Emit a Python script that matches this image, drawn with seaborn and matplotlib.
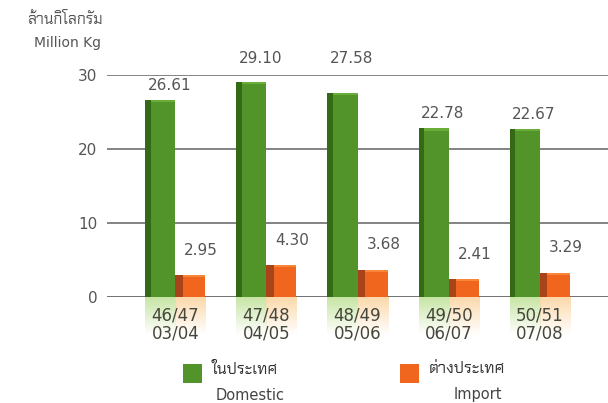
import matplotlib
matplotlib.use("Agg")
import matplotlib.pyplot as plt
import matplotlib.colors as mcolors
from matplotlib.patches import Rectangle
import numpy as np
import pandas as pd
import seaborn as sns

# ---- data ----
seasons = ["46/47\n03/04", "47/48\n04/05", "48/49\n05/06", "49/50\n06/07", "50/51\n07/08"]
domestic = [26.61, 29.10, 27.58, 22.78, 22.67]
imports = [2.95, 4.30, 3.68, 2.41, 3.29]
series_names = ["Domestic", "Import"]
legend_thai = ["ในประเทศ", "ต่างประเทศ"]
yticks = [0, 10, 20, 30]
unit_thai = "ล้านกิโลกรัม"
unit_en = "Million Kg"

GREEN = "#52942a"
GREEN_DARK = "#346a16"
GREEN_TOP = "#6aad38"
GREEN_LIGHT = "#c2e39c"
ORANGE = "#f0661f"
ORANGE_DARK = "#a9441a"
ORANGE_TOP = "#f7853a"
ORANGE_LIGHT = "#fcd6a4"
TEXT = "#555555"
LABEL = "#46463a"

sns.set_theme(style="white")
THAI = ["Chakra Petch", "DejaVu Sans"]
LAT = ["DejaVu Sans"]
plt.rcParams["font.family"] = THAI

df = pd.DataFrame({
    "season": seasons * 2,
    "type": [series_names[0]] * len(seasons) + [series_names[1]] * len(seasons),
    "value": domestic + imports,
})

fig = plt.figure(figsize=(6.08, 4.03), dpi=100)
ax = fig.add_axes([107 / 608, 1 - 297 / 403, 1 - 107 / 608, (297 - 75) / 403])

sns.barplot(data=df, x="season", y="value", hue="type", order=seasons,
            hue_order=series_names, palette=[GREEN, ORANGE], width=0.66,
            dodge=True, gap=0, saturation=1, legend=False, ax=ax, zorder=3,
            err_kws={"linewidth": 0})

# 3D-ish shading + reflections derived from the drawn bars
patches = [p for p in ax.patches if p.get_height() > 0]
for p in patches:
    p.set_edgecolor("none")
    x0, w, h = p.get_x(), p.get_width(), p.get_height()
    is_green = mcolors.to_hex(p.get_facecolor()) == mcolors.to_hex(GREEN)
    dark = GREEN_DARK if is_green else ORANGE_DARK
    top = GREEN_TOP if is_green else ORANGE_TOP
    light = GREEN_LIGHT if is_green else ORANGE_LIGHT
    side = 0.18 if is_green else 0.24
    ax.add_patch(Rectangle((x0 + w * side, h - 0.3), w * (1 - side), 0.3,
                           facecolor=top, edgecolor="none", zorder=4))
    ax.add_patch(Rectangle((x0, 0), w * side, h, facecolor=dark,
                           edgecolor="none", zorder=4))
    rgb = mcolors.to_rgb(light)
    grad = np.zeros((50, 2, 4))
    grad[..., :3] = rgb
    grad[..., 3] = np.linspace(0.95, 0.0, 50)[:, None]
    ax.imshow(grad, extent=[x0, x0 + w, -5.2, 0], aspect="auto",
              clip_on=False, zorder=1, interpolation="bilinear")

ax.set_xlim(-0.75, 4.75)
ax.set_ylim(0, 30)

# value labels
def label_y(v, off):
    y = v + off
    g = round(y / 10) * 10
    if abs(y - g) < 1.3 and g > 0:
        y = g + 2.2
    return y

for i, v in enumerate(domestic):
    ax.text(i - 0.165 + 0.1, label_y(v, 2.0), f"{v:.2f}", ha="center",
            va="center", fontsize=11, color=TEXT, zorder=5, family=LAT)
for i, v in enumerate(imports):
    ax.text(i + 0.165 + 0.12, v + 3.4, f"{v:.2f}", ha="center",
            va="center", fontsize=11, color=TEXT, zorder=5, family=LAT)

# grid / axes
for yv in yticks:
    ax.axhline(yv, color="#7a7a7a" if yv else "#666666", lw=1.3, zorder=2)
ax.set_yticks(yticks)
ax.set_yticklabels([str(t) for t in yticks], fontsize=11, color=TEXT, family=LAT)
ax.tick_params(axis="y", length=0, pad=7)
ax.tick_params(axis="x", length=0, pad=7)
ax.set_xticks(range(len(seasons)))
ax.set_xticklabels(seasons, fontsize=12, color=LABEL, linespacing=0.95, family=LAT)
ax.xaxis.set_zorder(6)
ax.yaxis.set_zorder(6)
ax.set_xlabel("")
ax.set_ylabel("")
for s in ax.spines.values():
    s.set_visible(False)
ax.grid(False)

# unit labels
fig.text(103 / 608, 1 - 20 / 403, unit_thai, ha="right", va="center",
         fontsize=11, color=TEXT)
fig.text(101 / 608, 1 - 43 / 403, unit_en, ha="right", va="center",
         fontsize=10, color=TEXT, family=LAT)

# legend
leg_colors = [GREEN, ORANGE]
sq_x = [183, 400]
eng_cx = [250, 478]
for k in range(2):
    fig.patches.append(Rectangle((sq_x[k] / 608, 1 - 383 / 403), 19 / 608, 19 / 403,
                                 transform=fig.transFigure, facecolor=leg_colors[k],
                                 edgecolor="none"))
    fig.text((sq_x[k] + 29) / 608, 1 - 369 / 403, legend_thai[k], ha="left",
             va="center", fontsize=11.5, color="#333333")
    fig.text(eng_cx[k] / 608, 1 - 395 / 403, series_names[k],
             ha="center", va="center", fontsize=10.5, color="#444444",
             family=LAT)

fig.savefig("out.png", dpi=100)
